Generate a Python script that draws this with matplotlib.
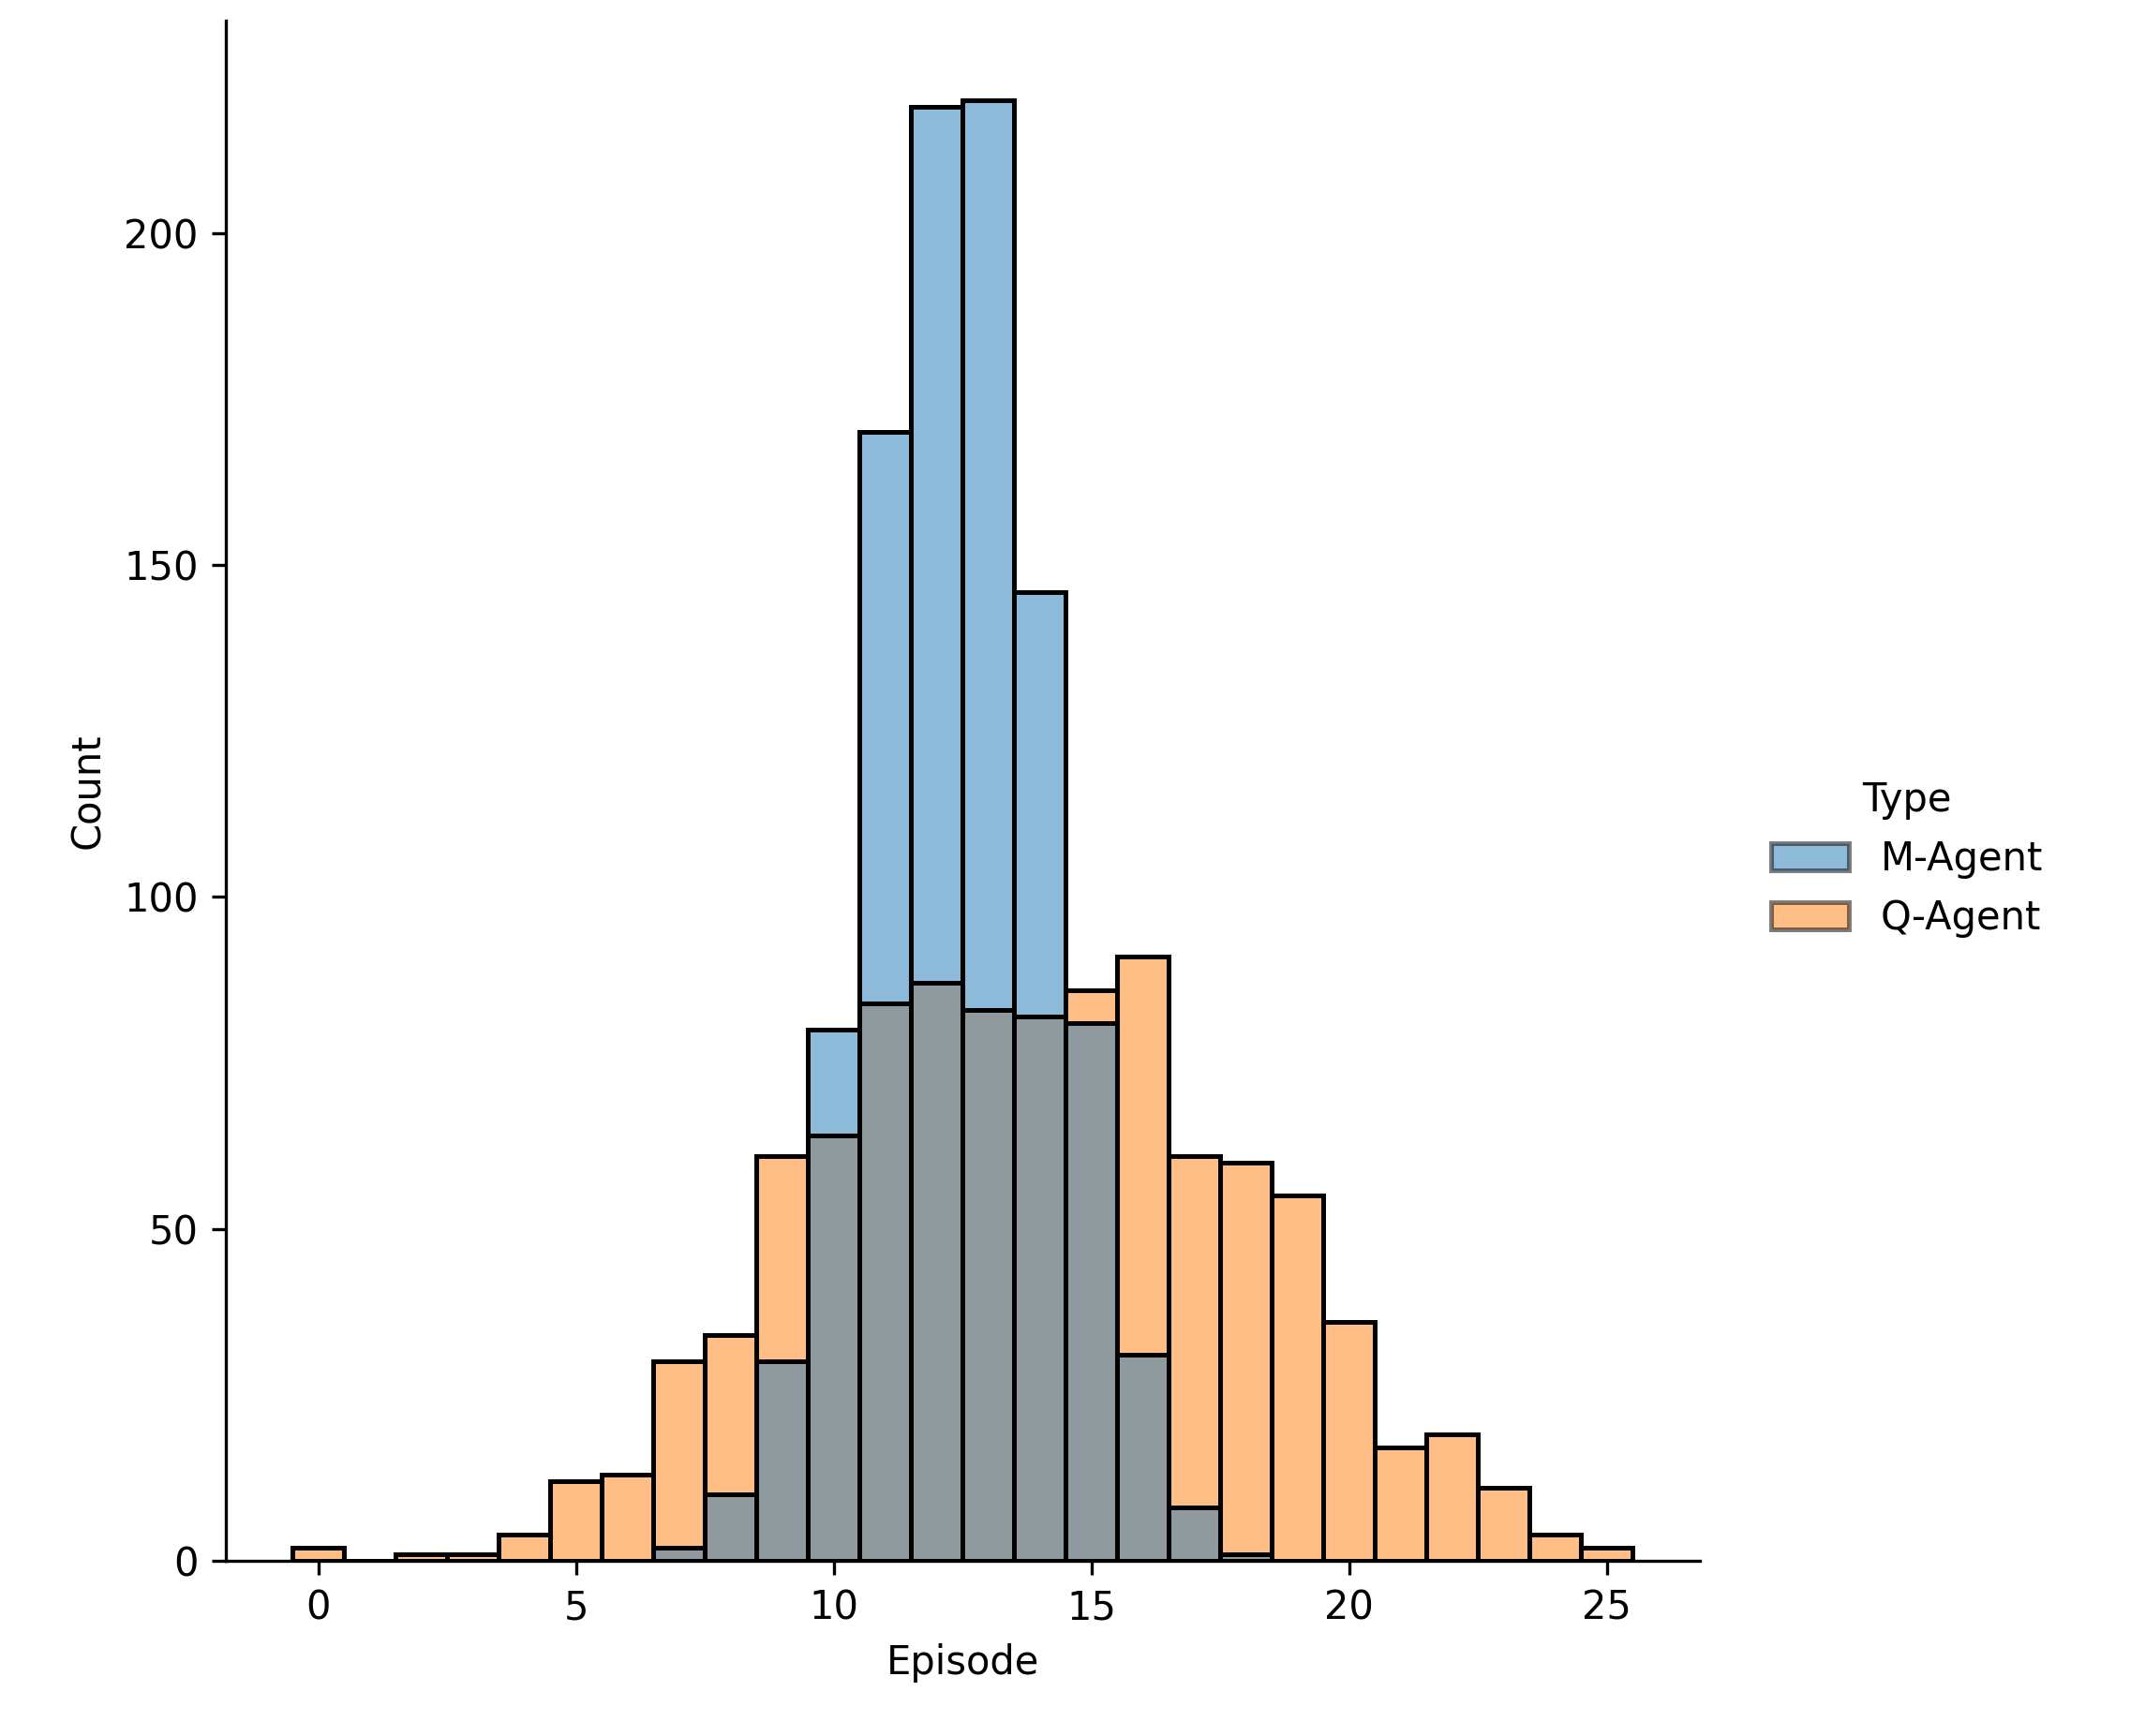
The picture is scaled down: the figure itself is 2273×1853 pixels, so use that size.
import matplotlib
matplotlib.use("Agg")
import matplotlib.pyplot as plt
from matplotlib.patches import Patch

episodes_q = list(range(0, 26))
counts_q = [2, 0, 1, 1, 4, 12, 13, 30, 34, 61, 64, 84, 87, 83, 82, 86,
            91, 61, 60, 55, 36, 17, 19, 11, 4, 2]
episodes_m = list(range(7, 19))
counts_m = [2, 10, 30, 80, 170, 219, 220, 146, 81, 31, 8, 1]

blue = "#1f77b4"
orange = "#ff7f0e"

fig = plt.figure(figsize=(2273 / 300, 1853 / 300), dpi=300)
ax = fig.add_axes([0.106, 0.101, 0.692, 0.887])

ax.bar(episodes_q, counts_q, width=1, color=orange, alpha=0.5, edgecolor="none")
ax.bar(episodes_m, counts_m, width=1, color=blue, alpha=0.5, edgecolor="none")
ax.bar(episodes_q, counts_q, width=1, fill=False, edgecolor="black", linewidth=1.2)
ax.bar(episodes_m, counts_m, width=1, fill=False, edgecolor="black", linewidth=1.2)

ax.set_xlim(-1.8, 26.8)
ax.set_ylim(0, 232)
ax.set_xticks([0, 5, 10, 15, 20, 25])
ax.set_yticks([0, 50, 100, 150, 200])
ax.set_xlabel("Episode")
ax.set_ylabel("Count")
ax.spines["top"].set_visible(False)
ax.spines["right"].set_visible(False)

handles = [Patch(facecolor=blue, alpha=0.5, edgecolor="black", linewidth=1.2),
           Patch(facecolor=orange, alpha=0.5, edgecolor="black", linewidth=1.2)]
fig.legend(handles, ["M-Agent", "Q-Agent"], title="Type", frameon=False,
           loc="center left", bbox_to_anchor=(0.815, 0.505))

fig.savefig("out.png", dpi=300)
